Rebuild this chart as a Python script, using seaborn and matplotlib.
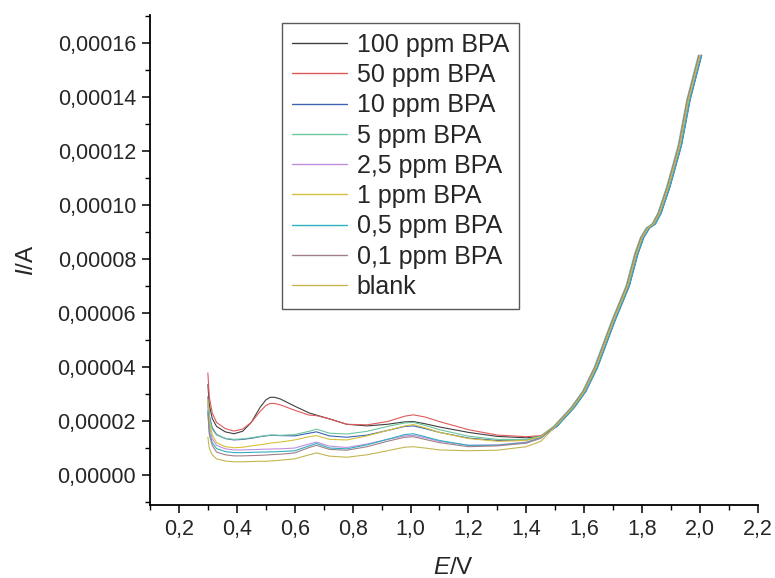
import numpy as np
import pandas as pd
import matplotlib
matplotlib.use('Agg')
import matplotlib.pyplot as plt
import seaborn as sns
from matplotlib.ticker import MultipleLocator, FuncFormatter

# sample names (legend order) and line colours
samples = ['100 ppm BPA', '50 ppm BPA', '10 ppm BPA', '5 ppm BPA', '2,5 ppm BPA',
           '1 ppm BPA', '0,5 ppm BPA', '0,1 ppm BPA', 'blank']
colors = ['#404040', '#e05a5a', '#3f62b0', '#6cc7a0', '#c08ee0',
          '#d6c03c', '#2fb0c0', '#a08088', '#c2b650']

# potential grid for the low-potential part (V)
e_low = [0.30, 0.305, 0.315, 0.33, 0.36, 0.39, 0.42, 0.45, 0.48, 0.50, 0.515, 0.53, 0.55, 0.60,
         0.65, 0.675, 0.72, 0.78, 0.85, 0.92, 0.98, 1.01, 1.05, 1.10, 1.20, 1.30, 1.40, 1.45]

# current values, in 1e-5 A
i_100 = [3.35, 2.6, 2.1, 1.8, 1.6, 1.53, 1.62, 1.95, 2.5, 2.78, 2.88, 2.88, 2.82, 2.55, 2.3, 2.22,
         2.08, 1.88, 1.82, 1.88, 1.97, 1.98, 1.9, 1.78, 1.58, 1.43, 1.38, 1.43]
i_50 = [3.78, 2.9, 2.3, 1.95, 1.72, 1.63, 1.7, 1.95, 2.35, 2.57, 2.65, 2.65, 2.6, 2.4, 2.22, 2.2,
        2.08, 1.88, 1.86, 1.98, 2.18, 2.23, 2.15, 1.98, 1.68, 1.48, 1.42, 1.46]
i_10 = [2.9, 2.2, 1.75, 1.5, 1.35, 1.3, 1.32, 1.36, 1.42, 1.45, 1.47, 1.47, 1.46, 1.45, 1.55, 1.6,
        1.45, 1.4, 1.48, 1.65, 1.8, 1.82, 1.72, 1.58, 1.37, 1.28, 1.3, 1.42]
i_5 = [2.7, 2.1, 1.7, 1.48, 1.36, 1.32, 1.34, 1.38, 1.43, 1.46, 1.48, 1.48, 1.47, 1.5, 1.62, 1.7,
       1.55, 1.52, 1.62, 1.8, 1.93, 1.95, 1.84, 1.68, 1.44, 1.32, 1.32, 1.44]
i_2_5 = [2.6, 1.8, 1.35, 1.1, 0.97, 0.93, 0.93, 0.94, 0.95, 0.96, 0.96, 0.97, 0.97, 1.0, 1.15, 1.22,
         1.07, 1.02, 1.15, 1.32, 1.45, 1.47, 1.38, 1.25, 1.1, 1.12, 1.22, 1.4]
i_1 = [2.8, 2.0, 1.5, 1.2, 1.05, 1.01, 1.03, 1.08, 1.12, 1.15, 1.18, 1.2, 1.22, 1.3, 1.42, 1.46,
       1.32, 1.3, 1.45, 1.65, 1.82, 1.87, 1.75, 1.58, 1.35, 1.25, 1.28, 1.42]
i_0_5 = [2.4, 1.6, 1.2, 0.98, 0.87, 0.83, 0.83, 0.84, 0.85, 0.85, 0.86, 0.86, 0.87, 0.9, 1.08, 1.17,
         1.0, 0.97, 1.12, 1.32, 1.5, 1.53, 1.42, 1.28, 1.1, 1.1, 1.2, 1.38]
i_0_1 = [2.3, 1.5, 1.1, 0.85, 0.75, 0.71, 0.71, 0.72, 0.73, 0.74, 0.75, 0.76, 0.77, 0.82, 1.02, 1.1,
         0.95, 0.92, 1.05, 1.25, 1.4, 1.42, 1.32, 1.2, 1.05, 1.08, 1.18, 1.36]
i_blank = [1.4, 1.0, 0.75, 0.6, 0.52, 0.49, 0.49, 0.5, 0.51, 0.51, 0.52, 0.53, 0.55, 0.6, 0.75, 0.82,
           0.7, 0.66, 0.75, 0.9, 1.03, 1.05, 1.0, 0.93, 0.9, 0.92, 1.05, 1.25]

# shared oxidation wave at high potential (all curves nearly overlap here)
e_high = [1.50, 1.56, 1.60, 1.64, 1.70, 1.75, 1.78, 1.80, 1.82, 1.84, 1.86, 1.89, 1.93, 1.96, 2.00]
i_high = [1.8, 2.5, 3.1, 3.98, 5.7, 7.0, 8.2, 8.8, 9.15, 9.3, 9.7, 10.66, 12.2, 13.9, 15.55]
# small potential offset of each curve inside the bundle (V)
e_shift = [0.004, -0.003, 0.006, -0.006, 0.002, -0.001, 0.005, -0.004, 0.0]

low_curves = [i_100, i_50, i_10, i_5, i_2_5, i_1, i_0_5, i_0_1, i_blank]

rows = []
for name, cur, de in zip(samples, low_curves, e_shift):
    e_all = e_low + [e + de for e in e_high]
    for e, i in zip(e_all, cur + i_high):
        rows.append({'E': e, 'I': i * 1e-5, 'sample': name})
df = pd.DataFrame(rows)

sns.set_style('ticks')
plt.rcParams['font.family'] = ['Liberation Sans', 'DejaVu Sans']
plt.rcParams['mathtext.fontset'] = 'custom'
plt.rcParams['mathtext.rm'] = 'Liberation Sans'
plt.rcParams['mathtext.it'] = 'Liberation Sans:italic'

fig = plt.figure(figsize=(7.75, 5.78), dpi=100)
ax = fig.add_axes([0.1935, 0.1263, 0.7845, 0.8477])

sns.lineplot(data=df, x='E', y='I', hue='sample', hue_order=samples,
             palette=colors, estimator=None, sort=False, linewidth=0.8, ax=ax)

ax.set_xlim(0.1, 2.2)
ax.set_ylim(-1.11e-5, 1.704e-4)
ax.xaxis.set_major_locator(MultipleLocator(0.2))
ax.xaxis.set_minor_locator(MultipleLocator(0.1))
ax.yaxis.set_major_locator(MultipleLocator(2e-5))
ax.yaxis.set_minor_locator(MultipleLocator(1e-5))
ax.xaxis.set_major_formatter(FuncFormatter(lambda v, p: f'{v:.1f}'.replace('.', ',')))
ax.yaxis.set_major_formatter(FuncFormatter(lambda v, p: f'{v:.5f}'.replace('.', ',').replace('-', '')))

sns.despine(ax=ax)
for s in ['left', 'bottom']:
    ax.spines[s].set_linewidth(1.3)
    ax.spines[s].set_color('black')
ax.tick_params(which='major', direction='out', length=6, width=1.1, labelsize=15.5,
               color='black', pad=4)
ax.tick_params(which='minor', direction='out', length=3.5, width=1.0, color='black')

ax.set_xlabel('$E$/V', fontsize=17.5, labelpad=12)
ax.set_ylabel('$I$/A', fontsize=17.5, labelpad=14)

handles, labels = ax.get_legend_handles_labels()
leg = ax.legend(handles, labels, loc='upper left', bbox_to_anchor=(0.217, 0.984),
                borderaxespad=0, fontsize=18, frameon=True, fancybox=False,
                edgecolor='#303030', handlelength=2.2, handletextpad=0.4,
                labelspacing=0.25, borderpad=0.4)
leg.get_frame().set_linewidth(1.0)
for line in leg.get_lines():
    line.set_linewidth(1.0)

plt.savefig('out.png', dpi=100)
